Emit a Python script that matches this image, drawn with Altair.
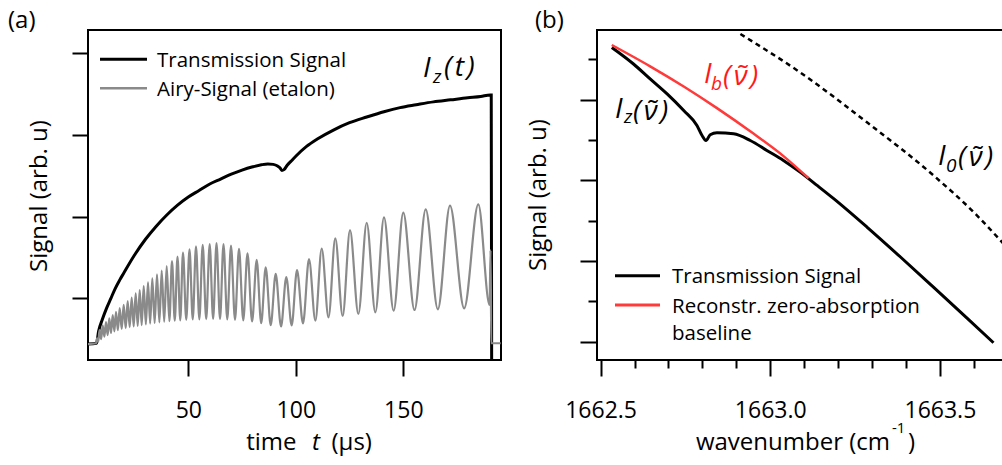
import altair as alt
import pandas as pd

FONT = "Open Sans"
BLACK = "#000000"
GREY = "#8a8a8a"
RED = "#ff3a3a"
RED_TEXT = "#ff1a1a"

# ---------------- panel (a): signals vs. time ----------------
# transmission through the sample, I_z(t)
trans_t = [3.35, 7.3, 8.3, 10.0, 12.0, 14.0, 16.0, 18.0, 20.0, 25.0, 30.0, 35.0,
           40.0, 45.0, 50.0, 55.0, 60.0, 65.0, 70.0, 75.0, 80.0, 84.0, 87.0, 89.5,
           91.5, 92.7, 93.5, 94.5, 96.0, 98.0, 100.0, 105.0, 110.0, 117.5, 125.0,
           133.0, 141.0, 148.5, 156.0, 164.0, 172.0, 180.0, 186.0, 190.4, 190.9, 191.1]
trans_v = [0.44, 0.45, 0.60, 0.74, 0.88, 1.00, 1.12, 1.22, 1.31, 1.53, 1.72, 1.88,
           2.02, 2.14, 2.24, 2.32, 2.40, 2.46, 2.52, 2.57, 2.61, 2.635, 2.645, 2.64,
           2.62, 2.595, 2.565, 2.575, 2.63, 2.685, 2.74, 2.86, 2.95, 3.06, 3.15,
           3.22, 3.285, 3.335, 3.37, 3.405, 3.43, 3.455, 3.47, 3.49, 3.49, 0.20]

# etalon (Airy) fringes: maxima and minima of the trace
airy_peak_t = [7.53, 8.70, 10.19, 11.72, 13.26, 14.84, 16.37, 18.09, 19.95, 21.81,
               23.67, 25.53, 27.40, 29.26, 31.26, 33.26, 35.44, 37.63, 39.95, 42.42,
               44.98, 47.53, 50.56, 53.58, 56.70, 59.95, 63.12, 66.37, 69.86, 73.58,
               77.53, 81.81, 86.00, 90.65, 95.58, 100.56, 106.14, 112.05, 118.37,
               125.21, 132.98, 141.02, 150.00, 160.42, 171.72, 184.88]
airy_peak_v = [0.51, 0.61, 0.67, 0.71, 0.755, 0.795, 0.835, 0.88, 0.92, 0.965,
               1.01, 1.06, 1.10, 1.15, 1.195, 1.245, 1.295, 1.34, 1.395, 1.455,
               1.51, 1.56, 1.60, 1.635, 1.655, 1.665, 1.675, 1.665, 1.645, 1.605,
               1.55, 1.47, 1.38, 1.30, 1.26, 1.345, 1.48, 1.61, 1.735,
               1.835, 1.925, 1.99, 2.05, 2.09, 2.135, 2.15]
airy_trough_t = [8.12, 9.45, 10.96, 12.49, 14.05, 15.61, 17.23, 19.02, 20.88, 22.74,
                 24.60, 26.47, 28.33, 30.26, 32.26, 34.35, 36.54, 38.79, 41.19, 43.70,
                 46.26, 49.05, 52.07, 55.14, 58.33, 61.54, 64.75, 68.12, 71.72, 75.56,
                 79.67, 83.91, 88.33, 93.12, 98.07, 103.35, 109.10, 115.21, 121.79,
                 129.10, 137.00, 145.51, 155.21, 166.07, 178.30]
airy_trough_v = [0.47, 0.50, 0.53, 0.55, 0.575, 0.595, 0.61, 0.625, 0.635, 0.648,
                 0.656, 0.664, 0.673, 0.682, 0.691, 0.698, 0.705, 0.713, 0.721, 0.726,
                 0.731, 0.737, 0.741, 0.743, 0.745, 0.747, 0.746, 0.742, 0.737, 0.730,
                 0.717, 0.695, 0.672, 0.655, 0.668, 0.694, 0.727, 0.767, 0.784,
                 0.808, 0.829, 0.848, 0.857, 0.866, 0.878]
# detector level before the ramp starts and the end of the ramp
airy_edge_t = [3.35, 7.2, 190.1, 190.6, 190.9, 195.3]
airy_edge_v = [0.44, 0.45, 0.92, 1.59, 0.45, 0.45]

# ---------------- panel (b): signals vs. wavenumber ----------------
wn_trans = [1662.533, 1662.597, 1662.646, 1662.696, 1662.745, 1662.784, 1662.799,
            1662.8105, 1662.823, 1662.843, 1662.892, 1662.941, 1662.990, 1663.039,
            1663.088, 1663.138, 1663.187, 1663.285, 1663.383, 1663.481, 1663.580,
            1663.658]
sig_trans = [3.646, 3.441, 3.256, 3.070, 2.864, 2.679, 2.555, 2.493, 2.564, 2.588,
             2.576, 2.493, 2.370, 2.246, 2.101, 1.937, 1.773, 1.421, 1.053, 0.676,
             0.292, -0.012]
wn_base = [1662.533, 1662.646, 1662.745, 1662.843, 1662.941, 1663.039, 1663.113]
sig_base = [3.676, 3.412, 3.162, 2.894, 2.607, 2.300, 2.025]
wn_i0 = [1662.912, 1663.088, 1663.285, 1663.481, 1663.609, 1663.686]
sig_i0 = [3.812, 3.337, 2.719, 2.061, 1.566, 1.22]

time_ticks = [50, 100, 150]
level_ticks_a = [1, 2, 3, 4]
wn_ticks = [1662.5, 1662.6, 1662.7, 1662.8, 1662.9, 1663.0,
            1663.1, 1663.2, 1663.3, 1663.4, 1663.5, 1663.6]
level_ticks_b = [0, 0.5, 1, 1.5, 2, 2.5, 3, 3.5]


def txt(text, x, y, size, color=BLACK, italic=False, align="left", angle=None):
    mk = dict(align=align, baseline="alphabetic", font=FONT, fontSize=size,
              color=color, fontStyle="italic" if italic else "normal")
    if angle is not None:
        mk["angle"] = angle
    return alt.Chart(pd.DataFrame({"s": [text]})).mark_text(**mk).encode(
        x=alt.value(x), y=alt.value(y), text="s:N")


def swatch(x1, x2, y, color, width):
    return alt.Chart(pd.DataFrame({"s": [0]})).mark_rule(
        color=color, strokeWidth=width).encode(
        x=alt.value(x1), x2=alt.value(x2), y=alt.value(y))


# ---------- panel (a) ----------
df_trans = pd.DataFrame({"t": trans_t, "v": trans_v})
df_airy = pd.DataFrame({
    "t": airy_edge_t + airy_peak_t + airy_trough_t,
    "v": airy_edge_v + airy_peak_v + airy_trough_v,
}).sort_values("t")

xa = alt.X("t:Q", scale=alt.Scale(domain=[3.35, 195.44], nice=False, zero=False),
           axis=alt.Axis(values=time_ticks, title=None, tickSize=16, labelPadding=23,
                         labelFlush=False))
ya = alt.Y("v:Q", scale=alt.Scale(domain=[0.245, 4.285], nice=False, zero=False),
           axis=alt.Axis(values=level_ticks_a, labels=False, title=None, tickSize=16))

line_trans_a = alt.Chart(df_trans).mark_line(
    color=BLACK, strokeWidth=3, clip=True, interpolate="monotone").encode(x=xa, y=ya)
line_airy = alt.Chart(df_airy).mark_line(
    color=GREY, strokeWidth=2.2, clip=True, interpolate="monotone").encode(x=xa, y=ya)

HS = "\u200a"
panel_a = alt.layer(
    line_trans_a, line_airy,
    swatch(12, 59, 29.3, BLACK, 3), swatch(12, 59, 58.3, GREY, 2.5),
    txt("Transmission Signal", 69, 36.8, 20.5),
    txt("Airy-Signal (etalon)", 69, 65.8, 20.5),
    txt("I", 335, 47, 28, italic=True),
    txt("z", 345, 53, 19, italic=True),
    txt("(" + HS + "t" + HS + ")", 356, 46.3, 28, italic=True),
    txt("(a)", -80, -2, 24),
    txt("Signal (arb. u)", -40.8, 166, 24, align="center", angle=270),
    txt("time", 208.5, 420, 24, align="right"),
    txt("t", 228, 420, 24, italic=True, align="center"),
    txt("(µs)", 243.5, 420, 24),
).properties(width=413, height=330)

# ---------- panel (b) ----------
df_tb = pd.DataFrame({"w": wn_trans, "s": sig_trans})
df_base = pd.DataFrame({"w": wn_base, "s": sig_base})
df_i0 = pd.DataFrame({"w": wn_i0, "s": sig_i0})

MINOR_X = "abs(datum.value * 2 - round(datum.value * 2)) > 0.01"
MINOR_Y = "datum.value % 1 != 0"
xb = alt.X("w:Q", scale=alt.Scale(domain=[1662.4894, 1663.686], nice=False, zero=False),
           axis=alt.Axis(values=wn_ticks, title=None, tickSize=16, labelPadding=23,
                         labelFlush=False, labelOverlap=False,
                         labelExpr="abs(datum.value * 2 - round(datum.value * 2)) < 0.01 ? format(datum.value, '.1f') : ''",
                         tickDash={"condition": {"test": MINOR_X, "value": [8, 40]},
                                   "value": []}))
yb = alt.Y("s:Q", scale=alt.Scale(domain=[-0.226, 3.862], nice=False, zero=False),
           axis=alt.Axis(values=level_ticks_b, labels=False, title=None, tickSize=17,
                         tickDash={"condition": {"test": MINOR_Y, "value": [9, 40]},
                                   "value": []}))

line_trans_b = alt.Chart(df_tb).mark_line(
    color=BLACK, strokeWidth=3, clip=True, interpolate="monotone").encode(x=xb, y=yb)
line_base = alt.Chart(df_base).mark_line(
    color=RED, strokeWidth=2.5, clip=True, interpolate="monotone").encode(x=xb, y=yb)
line_i0 = alt.Chart(df_i0).mark_line(
    color=BLACK, strokeWidth=2.5, strokeDash=[5, 4], clip=True,
    interpolate="monotone").encode(x=xb, y=yb)

NU = "(" + HS + "\u03bd\u0303" + HS + ")"
panel_b = alt.layer(
    line_trans_b, line_base, line_i0,
    swatch(18, 63, 245.7, BLACK, 3), swatch(18, 63, 275, RED, 3),
    txt("Transmission Signal", 75, 253.3, 20.5),
    txt("Reconstr. zero-absorption", 75, 282.5, 20.5),
    txt("baseline", 75, 310, 20.5),
    txt("I", 107, 53, 28, color=RED_TEXT, italic=True),
    txt("b", 114, 60, 19, color=RED_TEXT, italic=True),
    txt(NU, 126, 55.3, 28, color=RED_TEXT, italic=True),
    txt("I", 18, 88, 28, italic=True),
    txt("z", 27, 93, 19, italic=True),
    txt(NU, 36, 90.3, 28, italic=True),
    txt("I", 341, 135, 28, italic=True),
    txt("0", 349, 142, 19, italic=True),
    txt(NU, 361, 136.3, 28, italic=True),
    txt("(b)", -62, -2, 24),
    txt("Signal (arb. u)", -51, 165, 24, align="center", angle=270),
    txt("wavenumber (cm", 293, 420, 24, align="right"),
    txt("-1", 295, 403, 15),
    txt(")", 311, 420, 24),
).properties(width=406, height=330)

chart = alt.hconcat(
    panel_a, panel_b, spacing=96, bounds="flush",
    autosize=alt.AutoSizeParams(type="none"),
    padding={"left": 88, "top": 30, "right": 914, "bottom": 435},
    background="white",
).configure_view(
    stroke=BLACK, strokeWidth=2
).configure_axis(
    labelFont=FONT, labelFontSize=23, labelColor=BLACK, tickColor=BLACK,
    tickWidth=2, domain=False, grid=False
)

chart.save("out.html", embed_options={"renderer": "svg", "actions": False})
